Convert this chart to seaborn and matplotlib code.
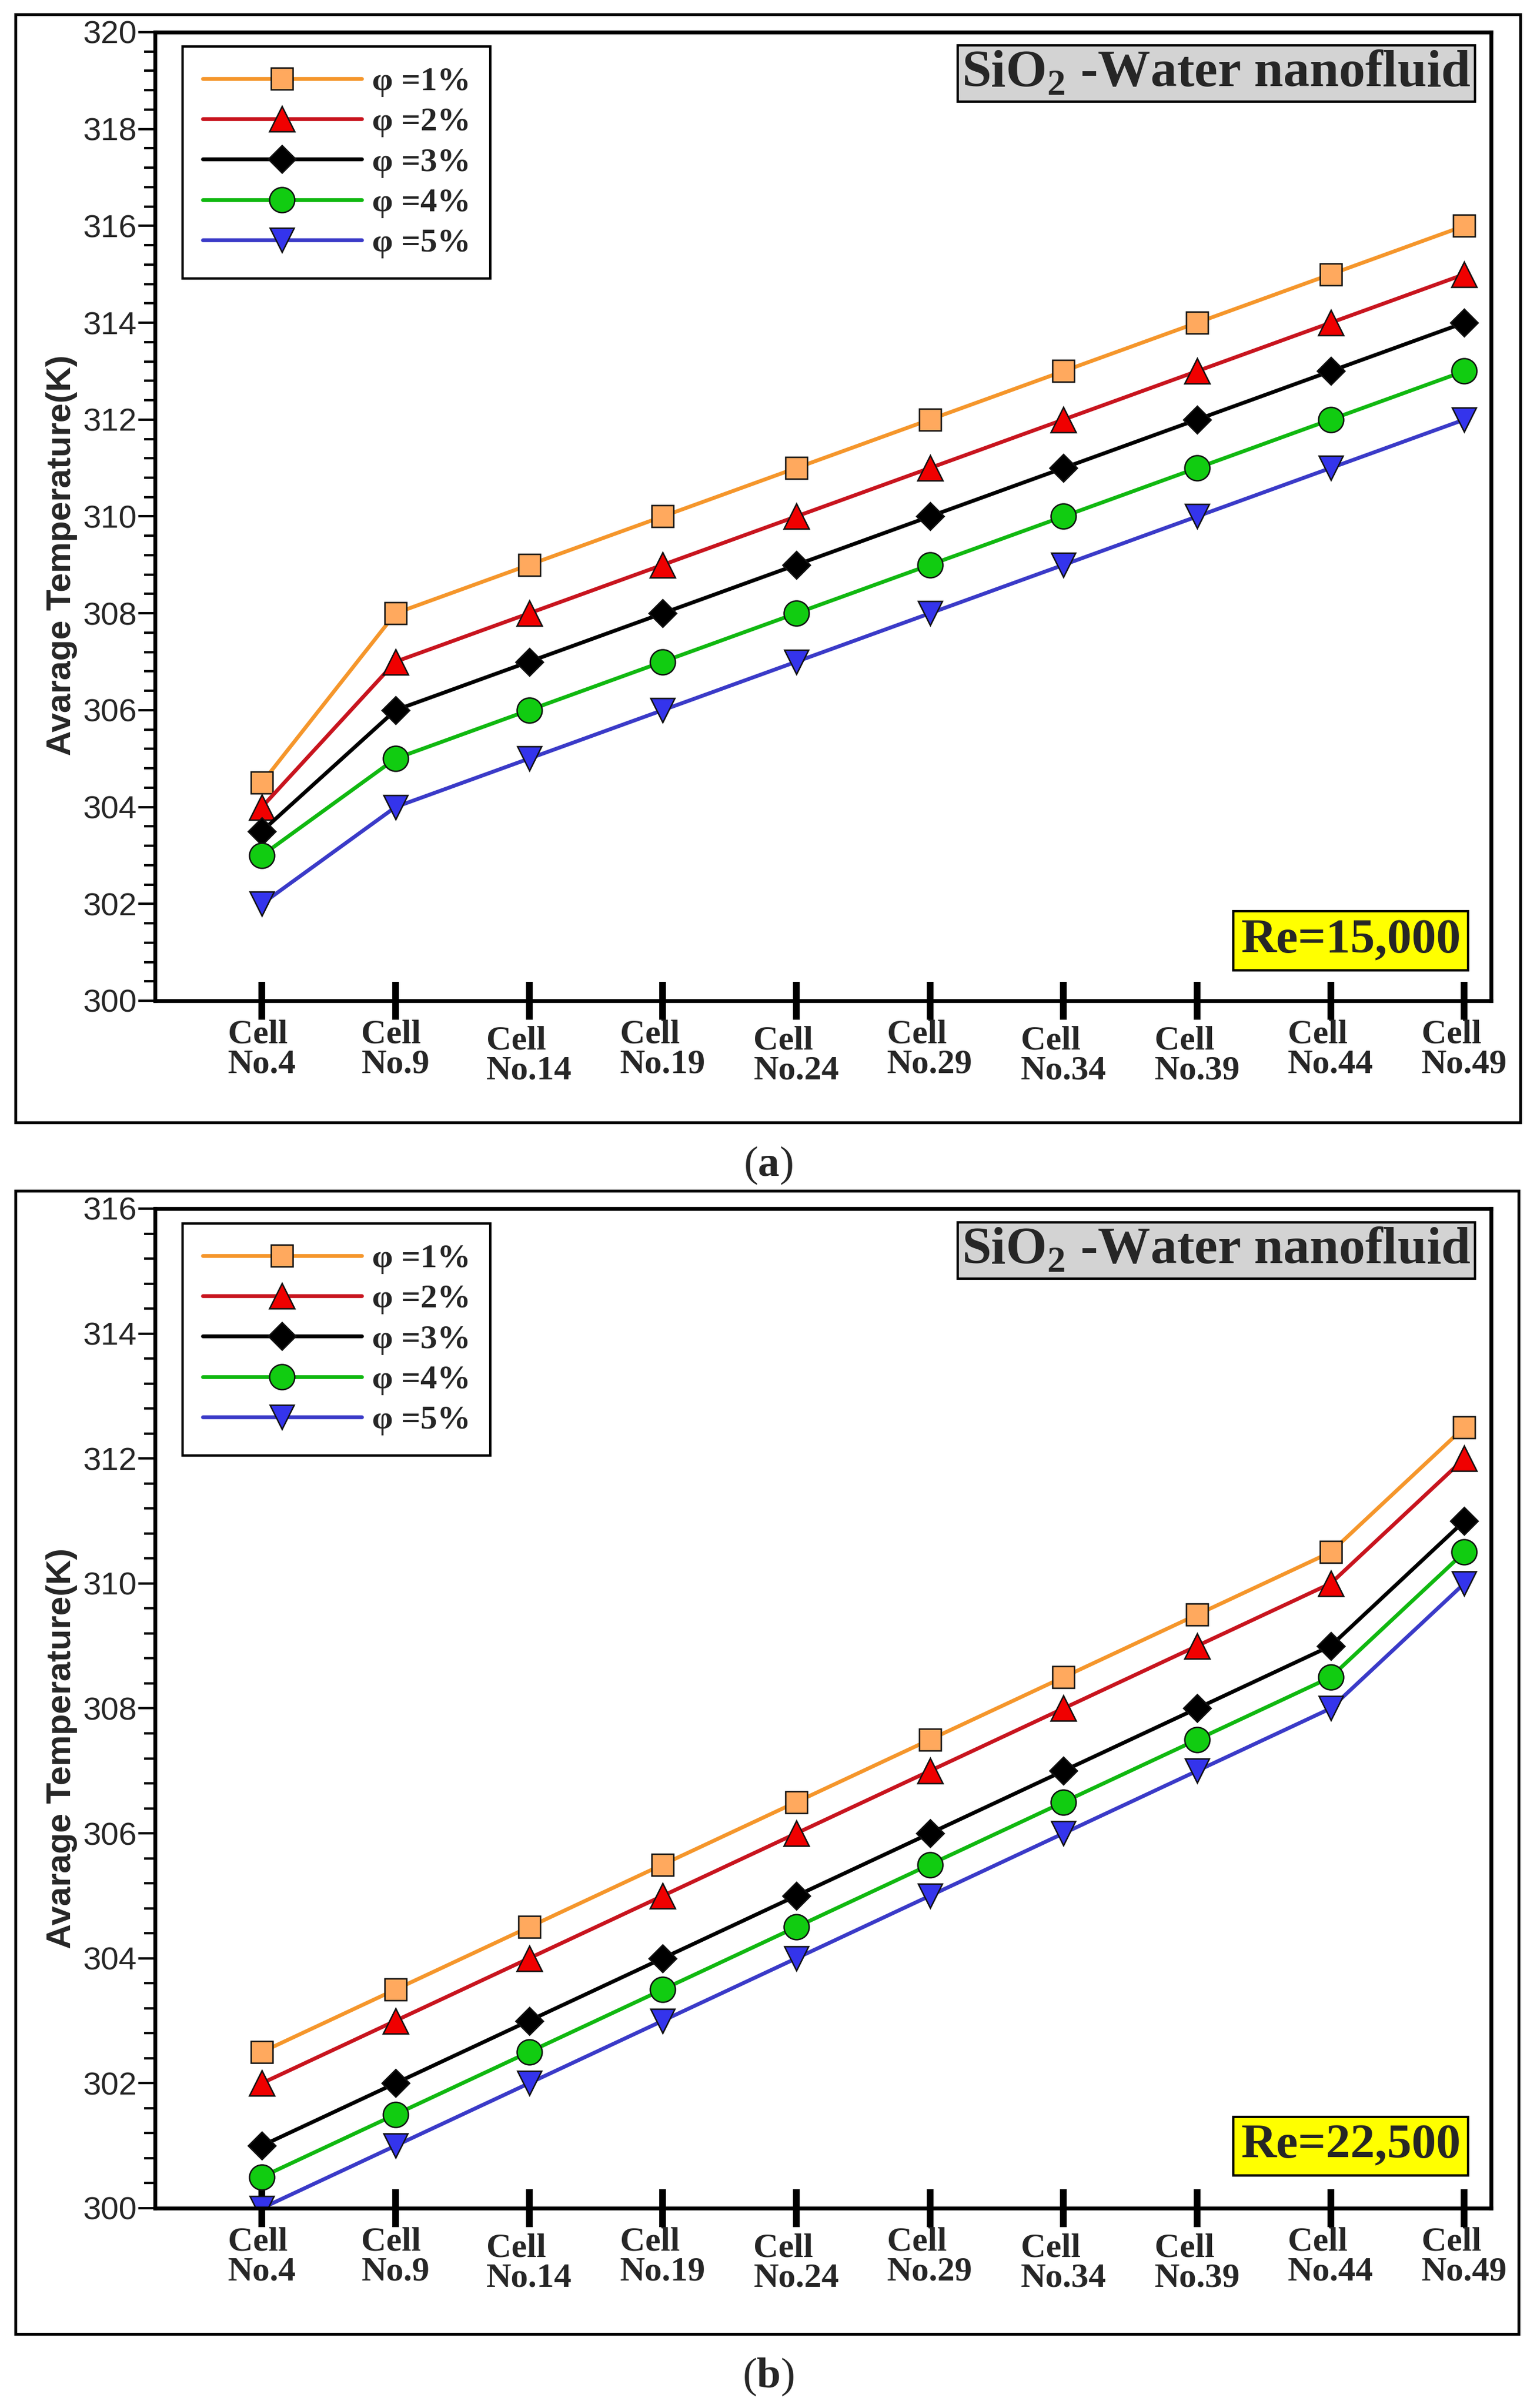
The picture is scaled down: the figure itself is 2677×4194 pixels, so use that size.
import pandas as pd
import seaborn as sns
import matplotlib.pyplot as plt
from matplotlib.ticker import MultipleLocator
from matplotlib.patches import Rectangle

# datos
cells = [4, 9, 14, 19, 24, 29, 34, 39, 44, 49]
cell_labels = ['Cell\nNo.%d' % c for c in cells]
low_cells = [14, 24, 34, 39]          # etiquetas que van un poco mas abajo

phi_labels = ['φ =1%', 'φ =2%', 'φ =3%', 'φ =4%', 'φ =5%']

# (a) Re = 15,000
re15_phi1 = [304.5, 308, 309, 310, 311, 312, 313, 314, 315, 316]
re15_phi2 = [304, 307, 308, 309, 310, 311, 312, 313, 314, 315]
re15_phi3 = [303.5, 306, 307, 308, 309, 310, 311, 312, 313, 314]
re15_phi4 = [303, 305, 306, 307, 308, 309, 310, 311, 312, 313]
re15_phi5 = [302, 304, 305, 306, 307, 308, 309, 310, 311, 312]

# (b) Re = 22,500
re22_phi1 = [302.5, 303.5, 304.5, 305.5, 306.5, 307.5, 308.5, 309.5, 310.5, 312.5]
re22_phi2 = [302, 303, 304, 305, 306, 307, 308, 309, 310, 312]
re22_phi3 = [301, 302, 303, 304, 305, 306, 307, 308, 309, 311]
re22_phi4 = [300.5, 301.5, 302.5, 303.5, 304.5, 305.5, 306.5, 307.5, 308.5, 310.5]
re22_phi5 = [300, 301, 302, 303, 304, 305, 306, 307, 308, 310]

# estilos
line_colors = ['#F5962B', '#C8141E', '#000000', '#10B810', '#3A3AC8']
face_colors = ['#FFA95E', '#F00000', '#000000', '#11CC11', '#3434EC']
markers = ['s', '^', 'D', 'o', 'v']
msizes = [9.2, 10.5, 8.0, 10.5, 10.0]

sns.set_style('white')
plt.rcParams['font.family'] = ['Liberation Serif', 'DejaVu Serif']
plt.rcParams['mathtext.fontset'] = 'custom'
plt.rcParams['mathtext.rm'] = 'Liberation Serif:bold'
plt.rcParams['mathtext.bf'] = 'Liberation Serif:bold'

W, H = 2677, 4194
fig = plt.figure(figsize=(W / 300, H / 300), dpi=300)


def panel(rect, ymax, series, re_text):
    ax = fig.add_axes(rect)
    for i, vals in enumerate(series):
        df = pd.DataFrame({'cell': cells, 'temp': vals})
        sns.lineplot(data=df, x='cell', y='temp', ax=ax, color=line_colors[i],
                     marker=markers[i], markersize=msizes[i],
                     markerfacecolor=face_colors[i], markeredgecolor='#111111',
                     markeredgewidth=0.6, linewidth=1.6, errorbar=None,
                     label=phi_labels[i])

    ax.set_xlim(0, 50)
    ax.set_ylim(300, ymax)

    # eje x: ticks gruesos que cruzan el eje
    hi = [c for c in cells if c not in low_cells]
    ax.set_xticks(hi, [cell_labels[cells.index(c)] for c in hi])
    ax.set_xticks(low_cells, [cell_labels[cells.index(c)] for c in low_cells], minor=True)
    ax.tick_params(axis='x', which='both', bottom=True, top=False, direction='inout',
                   length=16, width=2.8, color='black', labelsize=14.5)
    ax.tick_params(axis='x', which='major', pad=-0.3)
    ax.tick_params(axis='x', which='minor', pad=2.4)
    for lab in ax.get_xticklabels() + ax.get_xticklabels(minor=True):
        lab.set_fontweight('bold')
        lab.set_multialignment('left')
        lab.set_linespacing(0.95)

    # eje y
    ax.yaxis.set_major_locator(MultipleLocator(2))
    ax.yaxis.set_minor_locator(MultipleLocator(0.4))
    ax.tick_params(axis='y', which='both', left=True, right=False, direction='out',
                   width=1.0, color='black')
    ax.tick_params(axis='y', which='major', length=7, labelsize=13.5, pad=0.5)
    ax.tick_params(axis='y', which='minor', length=4.5)
    for lab in ax.get_yticklabels():
        lab.set_family('Liberation Sans')

    ax.set_xlabel('')
    ax.set_ylabel('Avarage Temperature(K)', family='Liberation Sans',
                  fontweight='bold', fontsize=14.5)
    ax.yaxis.set_label_coords(-0.058, 0.46)

    for s in ['left', 'bottom', 'top', 'right']:
        ax.spines[s].set_visible(True)
        ax.spines[s].set_linewidth(1.6)
        ax.spines[s].set_color('black')

    leg = ax.legend(loc='upper left', bbox_to_anchor=(0.0206, 0.985), borderaxespad=0,
                    frameon=True, fancybox=False, framealpha=1, edgecolor='black',
                    handlelength=4.75, handletextpad=0.3, labelspacing=0.3,
                    borderpad=0.6, prop={'family': ['Liberation Serif', 'DejaVu Serif'],
                                         'weight': 'bold', 'size': 14})
    leg.get_frame().set_linewidth(1.0)

    ax.text(0.985, 0.982, r'SiO$_\mathbf{2}$ -Water nanofluid', transform=ax.transAxes,
            ha='right', va='top', fontsize=22, fontweight='bold',
            bbox=dict(boxstyle='square,pad=0.08', fc='#D3D3D3', ec='black', lw=1.0))
    ax.text(0.895, 0.062, re_text, transform=ax.transAxes, ha='center', va='center',
            fontsize=20.5, fontweight='bold',
            bbox=dict(boxstyle='square,pad=0.15', fc='#FFFF00', ec='black', lw=1.0))
    return ax


panel([270 / W, 1 - 1743 / H, 2327 / W, 1687 / H], 320,
      [re15_phi1, re15_phi2, re15_phi3, re15_phi4, re15_phi5], 'Re=15,000')
panel([270 / W, 1 - 3846 / H, 2327 / W, 1741 / H], 316,
      [re22_phi1, re22_phi2, re22_phi3, re22_phi4, re22_phi5], 'Re=22,500')

# marcos exteriores
fig.add_artist(Rectangle((27 / W, 1 - 1955 / H), 2621 / W, 1930 / H,
                         transform=fig.transFigure, fill=False, ec='black', lw=1.2))
fig.add_artist(Rectangle((27 / W, 1 - 4065 / H), 2618 / W, 1991 / H,
                         transform=fig.transFigure, fill=False, ec='black', lw=1.2))

fig.text(0.5, 1 - 2030 / H, r'($\mathbf{a}$)', ha='center', va='center', fontsize=18)
fig.text(0.5, 1 - 4140 / H, r'($\mathbf{b}$)', ha='center', va='center', fontsize=18)

fig.savefig('out.png', dpi=300)
